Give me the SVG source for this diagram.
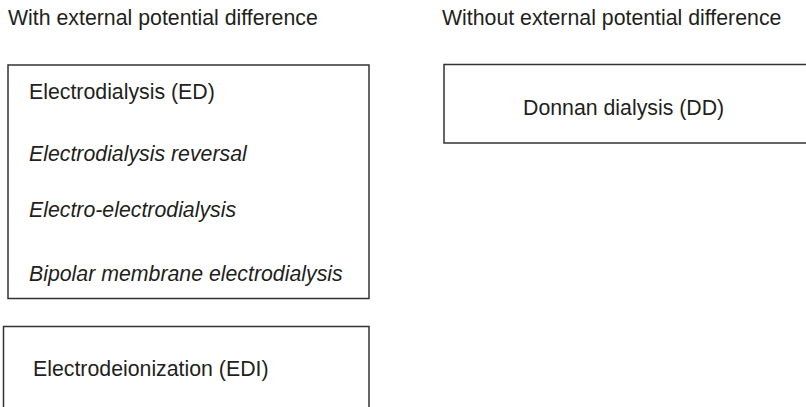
<svg xmlns="http://www.w3.org/2000/svg" width="806" height="407" viewBox="0 0 806 407">
<style>
.box{fill:#fff;stroke:#333;stroke-width:1.5}
text{font-family:"Liberation Sans",Arial,sans-serif;font-size:21.3px;fill:#231f20}
.it{font-style:italic}
</style>
<rect width="806" height="407" fill="#fff"/>
<g id="header-left"><text x="8" y="25">With external potential difference</text></g>
<g id="header-right"><text x="442" y="25">Without external potential difference</text></g>
<g id="node-ed">
<rect class="box" x="8" y="65" width="361" height="233.5"/>
<text x="29" y="99">Electrodialysis (ED)</text>
<text class="it" x="29" y="161">Electrodialysis reversal</text>
<text class="it" x="29" y="217">Electro-electrodialysis</text>
<text class="it" x="29" y="281">Bipolar membrane electrodialysis</text>
</g>
<g id="node-edi">
<rect class="box" x="3.5" y="326.5" width="365.5" height="100"/>
<text x="33" y="376">Electrodeionization (EDI)</text>
</g>
<g id="node-dd">
<rect class="box" x="444" y="64.5" width="380" height="78.5"/>
<text x="523" y="115">Donnan dialysis (DD)</text>
</g>
<g id="connectors"></g>
</svg>
